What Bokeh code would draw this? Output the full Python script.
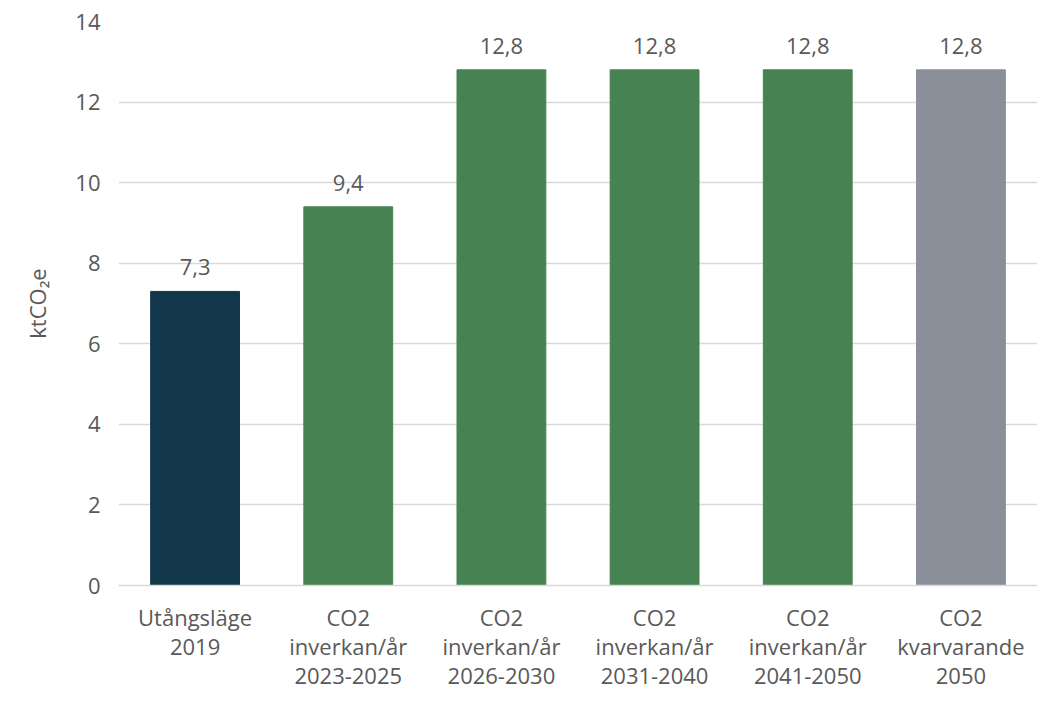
from bokeh.plotting import figure
from bokeh.models import ColumnDataSource, FixedTicker
from bokeh.core.properties import value
from bokeh.embed import file_html
from bokeh.resources import INLINE

labels = ["Utångsläge\n2019", "CO2\ninverkan/år\n2023-2025", "CO2\ninverkan/år\n2026-2030",
          "CO2\ninverkan/år\n2031-2040", "CO2\ninverkan/år\n2041-2050", "CO2\nkvarvarande\n2050"]
values = [7.3, 9.4, 12.8, 12.8, 12.8, 12.8]
colors = ["#12374a", "#478253", "#478253", "#478253", "#478253", "#8a8f99"]
yticks = [0, 2, 4, 6, 8, 10, 12, 14]

FONT = "Open Sans"
TXT = "#595959"
FS = "22px"

src = ColumnDataSource(dict(x=labels, top=values, color=colors,
                            lab=[f"{v:.1f}".replace(".", ",") for v in values]))

p = figure(x_range=labels, y_range=(0, 14), width=1037, height=693,
           output_backend="svg", toolbar_location=None,
           min_border_left=118, min_border_right=0, min_border_top=21, min_border_bottom=0)
p.outline_line_color = None
p.background_fill_color = "white"

p.vbar(x="x", top="top", width=0.58, color="color", source=src)
p.text(x="x", y="top", text="lab", source=src, text_align="center", text_baseline="bottom",
       y_offset=-16, text_font=value(FONT), text_font_size=FS, text_color=TXT)

p.xgrid.grid_line_color = None
p.ygrid.grid_line_color = "#d9d9d9"
p.ygrid.grid_line_width = 1.5
p.ygrid.ticker = FixedTicker(ticks=yticks)

p.yaxis.ticker = FixedTicker(ticks=yticks)
p.yaxis.axis_line_color = None
p.yaxis.major_tick_line_color = None
p.yaxis.minor_tick_line_color = None
p.yaxis.major_label_text_font = FONT
p.yaxis.major_label_text_font_size = FS
p.yaxis.major_label_text_color = TXT
p.yaxis.major_label_standoff = 12
p.yaxis.axis_label = "ktCO₂e"
p.yaxis.axis_label_text_font = FONT
p.yaxis.axis_label_text_font_size = FS
p.yaxis.axis_label_text_font_style = "normal"
p.yaxis.axis_label_text_color = TXT
p.yaxis.axis_label_standoff = 20

p.xaxis.axis_line_color = "#d9d9d9"
p.xaxis.axis_line_width = 1.5
p.xaxis.major_tick_line_color = None
p.xaxis.minor_tick_line_color = None
p.xaxis.major_label_text_font = FONT
p.xaxis.major_label_text_font_size = FS
p.xaxis.major_label_text_color = TXT
p.xaxis.major_label_text_line_height = 0.98
p.xaxis.major_label_standoff = 10

open("out.html", "w").write(file_html(p, INLINE))
